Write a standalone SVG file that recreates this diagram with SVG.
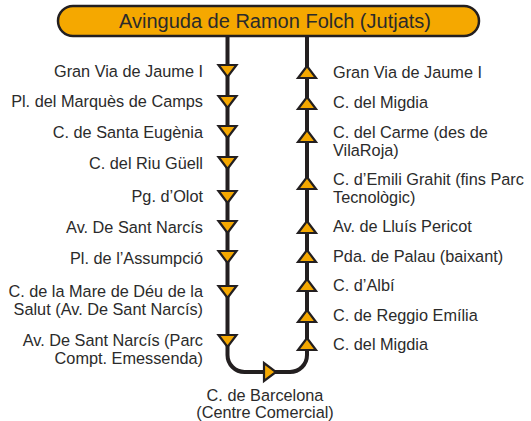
<svg xmlns="http://www.w3.org/2000/svg" width="531" height="421" viewBox="0 0 531 421">
  <style>
    .lbl { font-family: "Liberation Sans", Arial, sans-serif; font-size: 16.3px; fill: #2b2b2b; }
    .l { text-anchor: end; }
    .r { text-anchor: start; }
    .c { text-anchor: middle; }
    .track { fill: none; stroke: #231f20; stroke-width: 4; }
    .tri { fill: #f5a800; stroke: #231f20; stroke-width: 2.2; stroke-linejoin: miter; }
    .hdr { fill: #f5a800; stroke: #231f20; stroke-width: 2.5; }
    .hdrt { font-family: "Liberation Sans", Arial, sans-serif; font-size: 20px; fill: #2b2b2b; text-anchor: middle; }
  </style>
  <defs>
    <polygon id="down" class="tri" points="-9,-6 9,-6 0,6"/>
    <polygon id="up" class="tri" points="-9,6 9,6 0,-6"/>
    <polygon id="right" class="tri" points="-6,-9 -6,9 6,0"/>
  </defs>

  <g id="connectors">
    <path class="track" d="M227.5,36 V355 A17,17 0 0 0 244.5,372 H290 A17,17 0 0 0 307,355 V36"/>
  </g>

  <g id="header">
    <rect class="hdr" x="58" y="6" width="421" height="30" rx="15"/>
    <text class="hdrt" x="275" y="28">Avinguda de Ramon Folch (Jutjats)</text>
  </g>

  <g id="l1"><use href="#down" x="227.5" y="71"/><text class="lbl l" x="203" y="77">Gran Via de Jaume I</text></g>
  <g id="l2"><use href="#down" x="227.5" y="102"/><text class="lbl l" x="203" y="107">Pl. del Marquès de Camps</text></g>
  <g id="l3"><use href="#down" x="227.5" y="132"/><text class="lbl l" x="203" y="138">C. de Santa Eugènia</text></g>
  <g id="l4"><use href="#down" x="227.5" y="163"/><text class="lbl l" x="203" y="169">C. del Riu Güell</text></g>
  <g id="l5"><use href="#down" x="227.5" y="197"/><text class="lbl l" x="203" y="202">Pg. d’Olot</text></g>
  <g id="l6"><use href="#down" x="227.5" y="227"/><text class="lbl l" x="203" y="233">Av. De Sant Narcís</text></g>
  <g id="l7"><use href="#down" x="227.5" y="257"/><text class="lbl l" x="203" y="264">Pl. de l’Assumpció</text></g>
  <g id="l8"><use href="#down" x="227.5" y="292"/><text class="lbl l" x="203" y="297">C. de la Mare de Déu de la</text><text class="lbl l" x="203" y="315">Salut (Av. De Sant Narcís)</text></g>
  <g id="l9"><use href="#down" x="227.5" y="341"/><text class="lbl l" x="203" y="346">Av. De Sant Narcís (Parc</text><text class="lbl l" x="203" y="364">Compt. Emessenda)</text></g>

  <g id="bottom"><use href="#right" x="270" y="372"/><text class="lbl c" x="265" y="401">C. de Barcelona</text><text class="lbl c" x="265" y="418">(Centre Comercial)</text></g>

  <g id="r1"><use href="#up" x="307" y="72"/><text class="lbl r" x="333" y="78">Gran Via de Jaume I</text></g>
  <g id="r2"><use href="#up" x="307" y="103"/><text class="lbl r" x="333" y="108">C. del Migdia</text></g>
  <g id="r3"><use href="#up" x="307" y="136"/><text class="lbl r" x="333" y="138">C. del Carme (des de</text><text class="lbl r" x="333" y="156">VilaRoja)</text></g>
  <g id="r4"><use href="#up" x="307" y="183"/><text class="lbl r" x="333" y="185">C. d’Emili Grahit (fins Parc</text><text class="lbl r" x="333" y="203">Tecnològic)</text></g>
  <g id="r5"><use href="#up" x="307" y="227"/><text class="lbl r" x="333" y="232">Av. de Lluís Pericot</text></g>
  <g id="r6"><use href="#up" x="307" y="256"/><text class="lbl r" x="333" y="262">Pda. de Palau (baixant)</text></g>
  <g id="r7"><use href="#up" x="307" y="285"/><text class="lbl r" x="333" y="291">C. d’Albí</text></g>
  <g id="r8"><use href="#up" x="307" y="316"/><text class="lbl r" x="333" y="321">C. de Reggio Emília</text></g>
  <g id="r9"><use href="#up" x="307" y="344"/><text class="lbl r" x="333" y="350">C. del Migdia</text></g>
</svg>
